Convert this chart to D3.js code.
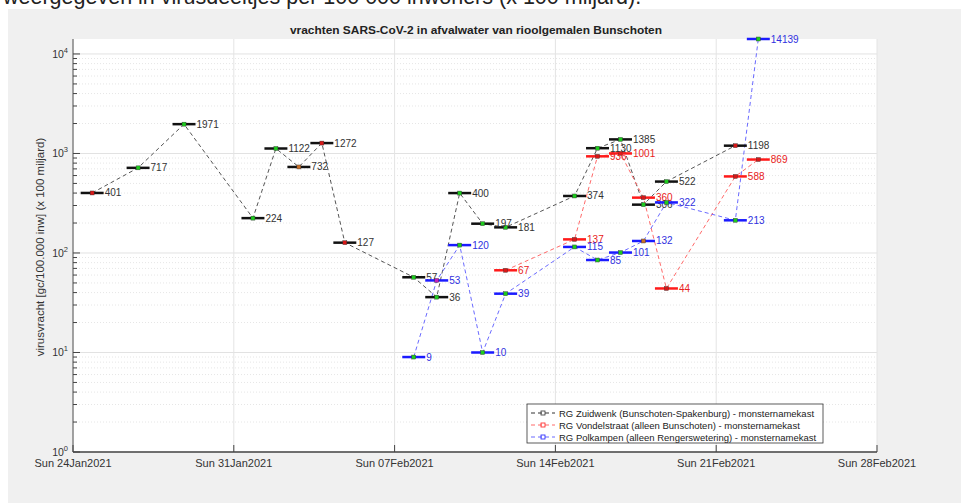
<!DOCTYPE html>
<html><head><meta charset="utf-8">
<script src="https://cdn.jsdelivr.net/npm/d3@7"></script>
<style>body{margin:0;background:#fff;overflow:hidden}svg{display:block;font-family:"Liberation Sans",Arial,sans-serif}</style>
</head><body>
<svg id="c" width="961" height="503"></svg>
<script>
// ---- data ----
const zuidwenkDates = ["2021-01-24","2021-01-26","2021-01-28","2021-01-31","2021-02-01","2021-02-02","2021-02-03","2021-02-04","2021-02-07","2021-02-08","2021-02-09","2021-02-10","2021-02-11","2021-02-14","2021-02-15","2021-02-16","2021-02-17","2021-02-18","2021-02-21"];
const zuidwenkValues = [401,717,1971,224,1122,732,1272,127,57,36,400,197,181,374,1130,1385,306,522,1198];
const zuidwenkFlags = ["r","g","g","g","g","o","r","r","g","g","g","g","g","g","g","g","g","g","r"];

const vondelDates = ["2021-02-11","2021-02-14","2021-02-15","2021-02-16","2021-02-17","2021-02-18","2021-02-21","2021-02-22"];
const vondelValues = [67,137,936,1001,360,44,588,869];
const vondelFlags = ["r","r","r","r","r","r","r","r"];

const polkampenDates = ["2021-02-07","2021-02-08","2021-02-09","2021-02-10","2021-02-11","2021-02-14","2021-02-15","2021-02-16","2021-02-17","2021-02-18","2021-02-21","2021-02-22"];
const polkampenValues = [9,53,120,10,39,115,85,101,132,322,213,14139];
const polkampenFlags = ["g","m","g","g","g","g","g","g","o","g","g","g"];

const seriesNames = ["RG Zuidwenk (Bunschoten-Spakenburg) - monsternamekast","RG Vondelstraat (alleen Bunschoten) - monsternamekast","RG Polkampen (alleen Rengerswetering) - monsternamekast"];
const xTickDates = ["2021-01-24","2021-01-31","2021-02-07","2021-02-14","2021-02-21","2021-02-28"];
const yTickExps = [0,1,2,3,4];
const titleText = "vrachten SARS-CoV-2 in afvalwater van rioolgemalen Bunschoten";
const yLabelText = "virusvracht [gc/100.000 inw] (x 100 miljard)";
const headerText = "weergegeven in virusdeeltjes per 100 000 inwoners (x 100 miljard).";

// ---- setup ----
const svg = d3.select("#c");
const parseDay = s => new Date(s + "T20:00:00");
const parseTick = s => new Date(s + "T00:00:00");
const L = 73, R = 877, T = 39, B = 452;
const x = d3.scaleTime().domain([parseTick("2021-01-24"), parseTick("2021-02-28")]).range([L, R]);
const y = d3.scaleLog().domain([1, 14139]).range([B, T]);
const halfDay = 12*3600*1000;

// header text (cropped at top)
svg.append("text").attr("x", 3).attr("y", 4).attr("font-size", 21.5).attr("fill", "#222").text(headerText);
// figure background
svg.append("rect").attr("x", 8).attr("y", 9).attr("width", 953).attr("height", 494).attr("fill", "#f0f0f0");
// axes background
svg.append("rect").attr("x", L).attr("y", T).attr("width", R-L).attr("height", B-T).attr("fill", "#fff");

// grid
const grid = svg.append("g");
yTickExps.forEach(e => {
  const v = Math.pow(10, e);
  grid.append("line").attr("x1", L).attr("x2", R).attr("y1", y(v)).attr("y2", y(v)).attr("stroke", "#e2e2e2").attr("stroke-width", 1);
  for (let k = 2; k <= 9; k++) {
    const mv = k * v;
    if (mv > 14139) continue;
    grid.append("line").attr("x1", L).attr("x2", R).attr("y1", y(mv)).attr("y2", y(mv))
      .attr("stroke", "#e6e6e6").attr("stroke-dasharray", "1,2").attr("stroke-width", 1);
  }
});
xTickDates.forEach(s => {
  const d = parseTick(s);
  grid.append("line").attr("x1", x(d)).attr("x2", x(d)).attr("y1", T).attr("y2", B).attr("stroke", "#e4e4e4");
});

// axes lines and ticks
const ax = svg.append("g");
ax.append("line").attr("x1", L).attr("x2", L).attr("y1", T).attr("y2", B).attr("stroke", "#555");
ax.append("line").attr("x1", L).attr("x2", R).attr("y1", B).attr("y2", B).attr("stroke", "#444").attr("stroke-width", 1.5);
yTickExps.forEach(e => {
  const v = Math.pow(10, e);
  ax.append("line").attr("x1", L).attr("x2", L+7).attr("y1", y(v)).attr("y2", y(v)).attr("stroke", "#444");
  for (let k = 2; k <= 9; k++) {
    const mv = k * v;
    if (mv > 14139) continue;
    ax.append("line").attr("x1", L).attr("x2", L+4).attr("y1", y(mv)).attr("y2", y(mv)).attr("stroke", "#444");
  }
  const t = ax.append("text").attr("x", L-5).attr("y", y(v)+4).attr("text-anchor", "end").attr("font-size", 10.5).attr("fill", "#333");
  t.append("tspan").text("10");
  t.append("tspan").attr("dy", -5).attr("font-size", 7.5).text(e);
});
const fmt = d3.timeFormat("%a %d%b%Y");
xTickDates.forEach(s => {
  const d = parseTick(s);
  ax.append("line").attr("x1", x(d)).attr("x2", x(d)).attr("y1", B).attr("y2", B-7).attr("stroke", "#444");
  ax.append("text").attr("x", x(d)).attr("y", B+15).attr("text-anchor", "middle").attr("font-size", 11).attr("fill", "#333").text(fmt(d));
});

// title & y label
svg.append("text").attr("x", 476).attr("y", 34).attr("text-anchor", "middle").attr("font-size", 11.5).attr("font-weight", "bold").attr("fill", "#222")
  .attr("textLength", 372).attr("lengthAdjust", "spacingAndGlyphs").text(titleText);
svg.append("text").attr("transform", "translate(44,247) rotate(-90)").attr("text-anchor", "middle").attr("font-size", 11.5).attr("fill", "#333").text(yLabelText);

// series
const markerCol = {g: "#1ecb1e", r: "#d81818", o: "#c8702a", m: "#c020c0"};
const series = [
  {dates: zuidwenkDates, values: zuidwenkValues, flags: zuidwenkFlags, line: "#555", bar: "#111", txt: "#333"},
  {dates: vondelDates, values: vondelValues, flags: vondelFlags, line: "#ff6a6a", bar: "#ff1a1a", txt: "#e82020"},
  {dates: polkampenDates, values: polkampenValues, flags: polkampenFlags, line: "#6a6aff", bar: "#1a1aff", txt: "#3030e0"}
];
const gS = svg.append("g");
series.forEach(s => {
  const pts = s.dates.map((d, i) => ({t: parseDay(d), v: s.values[i], f: s.flags[i]}));
  gS.append("path").datum(pts).attr("fill", "none").attr("stroke", s.line).attr("stroke-width", 1)
    .attr("stroke-dasharray", "4,3").attr("d", d3.line().x(p => x(p.t)).y(p => y(p.v)));
});
series.forEach(s => {
  const pts = s.dates.map((d, i) => ({t: parseDay(d), v: s.values[i], f: s.flags[i]}));
  const g = gS.append("g");
  g.selectAll("line.bar").data(pts).join("line").attr("class", "bar")
    .attr("x1", p => x(new Date(+p.t - halfDay))).attr("x2", p => x(new Date(+p.t + halfDay)))
    .attr("y1", p => y(p.v)).attr("y2", p => y(p.v)).attr("stroke", s.bar).attr("stroke-width", 2.5);
  g.selectAll("rect").data(pts).join("rect")
    .attr("x", p => x(p.t)-2).attr("y", p => y(p.v)-2).attr("width", 4).attr("height", 4)
    .attr("fill", p => markerCol[p.f]).attr("stroke", "#333").attr("stroke-width", 0.4);
  g.selectAll("text").data(pts).join("text")
    .attr("x", p => x(new Date(+p.t + halfDay)) + 1).attr("y", p => y(p.v) + 3.5)
    .attr("font-size", 10).attr("fill", s.txt).text(p => p.v);
});

// legend
const lg = svg.append("g");
lg.append("rect").attr("x", 527).attr("y", 404).attr("width", 296).attr("height", 39).attr("fill", "#fff").attr("stroke", "#333").attr("stroke-width", 0.8);
series.forEach((s, i) => {
  const yy = 413 + i*12;
  lg.append("line").attr("x1", 531).attr("x2", 555).attr("y1", yy).attr("y2", yy).attr("stroke", s.bar === "#111" ? "#333" : s.line).attr("stroke-dasharray", "4,3");
  lg.append("rect").attr("x", 541).attr("y", yy-2).attr("width", 4).attr("height", 4).attr("fill", "none").attr("stroke", s.bar === "#111" ? "#333" : s.bar).attr("stroke-width", 0.8);
  lg.append("text").attr("x", 559).attr("y", yy+3.5).attr("font-size", 9.5).attr("fill", "#222").text(seriesNames[i]);
});
</script>
</body></html>
